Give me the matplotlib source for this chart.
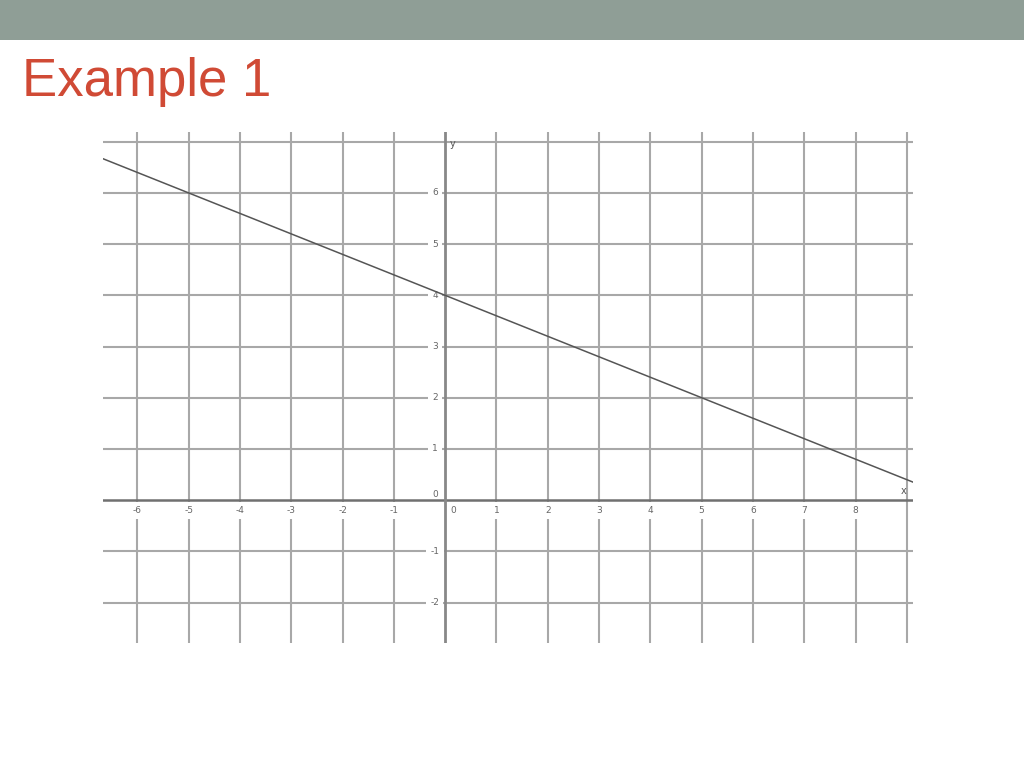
import numpy as np
import matplotlib.pyplot as plt

# line y = 4 - 0.4x: (-5, 6), (0, 4), (5, 2)
line_x = [-6.7, 9.2]
line_y = [4 - 0.4 * v for v in line_x]
x_ticks = list(range(-6, 10))
y_ticks = list(range(-2, 8))
x_labels = [str(v) for v in range(-6, 9)]
y_labels = [str(v) for v in range(-2, 7)]

fig = plt.figure(figsize=(10.24, 7.68), dpi=100)

# header band
fig.patches.append(plt.Rectangle((0, 1 - 40 / 768), 1, 40 / 768, transform=fig.transFigure,
                                 facecolor='#8f9e96', edgecolor='none'))
fig.text(22 / 1024, 1 - 96 / 768, 'Example 1', color='#d04a35', fontsize=38,
         family=['Liberation Sans', 'DejaVu Sans'], ha='left', va='baseline')

ax = fig.add_axes([103 / 1024, 1 - 643 / 768, 810 / 1024, 511 / 768])
ax.set_xlim(-6.67, 9.12)
ax.set_ylim(-2.79, 7.19)
ax.axis('off')

grid_c = '#a8a8a8'
for v in x_ticks:
    if v != 0:
        ax.axvline(v, color=grid_c, lw=1.5, zorder=1)
for v in y_ticks:
    if v != 0:
        ax.axhline(v, color=grid_c, lw=1.5, zorder=1)

# axes
ax.axhline(0, color='#707070', lw=1.8, zorder=5)
ax.axvline(0, color='#888888', lw=2, zorder=5)

lab = dict(color='#666666', fontsize=6.5, zorder=3,
           bbox=dict(facecolor='white', edgecolor='none', pad=3))
for s in x_labels:
    v = int(s)
    ax.text(v + 0.15 if v == 0 else v, -0.2, s, ha='center', va='center', **lab)
for s in y_labels:
    v = int(s)
    if v == 0:
        ax.text(-0.2, 0.12, s, ha='center', va='center', color='#666666', fontsize=6.5, zorder=3)
    else:
        ax.text(-0.2, v, s, ha='center', va='center', **lab)

ax.text(9.0, 0.18, 'x', ha='right', va='center', color='#555555', fontsize=7, zorder=3)
ax.text(0.14, 6.95, 'y', ha='center', va='center', color='#555555', fontsize=7, zorder=3)

ax.plot(line_x, line_y, color='#555555', lw=1.1, zorder=6)

fig.savefig('out.png', dpi=100)
